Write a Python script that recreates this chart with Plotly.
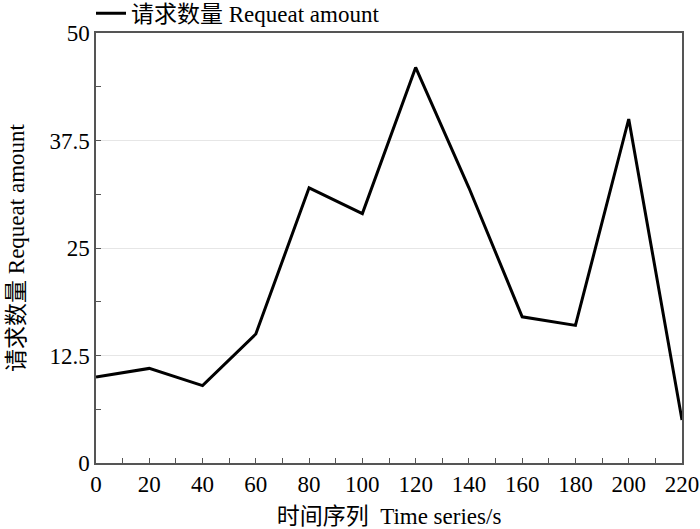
import plotly.graph_objects as go

time_s = [0, 20, 40, 60, 80, 100, 120, 140, 160, 180, 200, 220]
request_amount = [10, 11, 9, 15, 32, 29, 46, 32, 17, 16, 40, 5]
series_name = "请求数量 Requeat amount"
x_ticks = list(range(0, 221, 20))
y_ticks = [0, 12.5, 25, 37.5, 50]
y_tick_text = ["0", "12.5", "25", "37.5", "50"]

FONT = "Liberation Serif, Times New Roman, Noto Sans CJK SC, serif"
FS = 23

fig = go.Figure()
fig.add_trace(go.Scatter(
    x=time_s, y=request_amount, mode="lines", name=series_name,
    line=dict(color="black", width=3),
))

axis_common = dict(
    showline=True, linecolor="#555555", linewidth=1.5, mirror=True,
    ticks="inside", ticklen=5, tickcolor="#555555", tickwidth=1,
    tickfont=dict(family=FONT, size=FS, color="black"),
    zeroline=False, automargin=False,
)

fig.update_xaxes(
    range=[0, 220], tickvals=x_ticks, showgrid=False,
    minor=dict(dtick=10, ticks="inside", ticklen=5, tickcolor="#555555"),
    title=dict(text="时间序列  Time series/s", font=dict(family=FONT, size=FS, color="black"), standoff=19),
    **axis_common,
)
fig.update_yaxes(
    range=[0, 50], tickvals=y_ticks, ticktext=y_tick_text,
    showgrid=True, gridcolor="#e6e6e6", gridwidth=1,
    minor=dict(dtick=6.25, ticks="inside", ticklen=5, tickcolor="#555555", showgrid=False),
    title=dict(text="请求数量 Requeat amount", font=dict(family=FONT, size=FS, color="black"), standoff=18),
    **axis_common,
)

fig.update_layout(
    width=700, height=529,
    margin=dict(l=96, r=18, t=33, b=66, autoexpand=False),
    plot_bgcolor="white", paper_bgcolor="white",
    showlegend=True,
    legend=dict(
        x=0.13, y=0.975, xref="container", yref="container",
        xanchor="left", yanchor="middle", orientation="h",
        font=dict(family=FONT, size=FS, color="black"),
        bgcolor="rgba(0,0,0,0)", itemwidth=30,
    ),
)

fig.write_html(
    "out.html",
    config={"displayModeBar": False},
    post_script="document.body.style.margin='0';document.body.style.overflow='hidden';",
)
